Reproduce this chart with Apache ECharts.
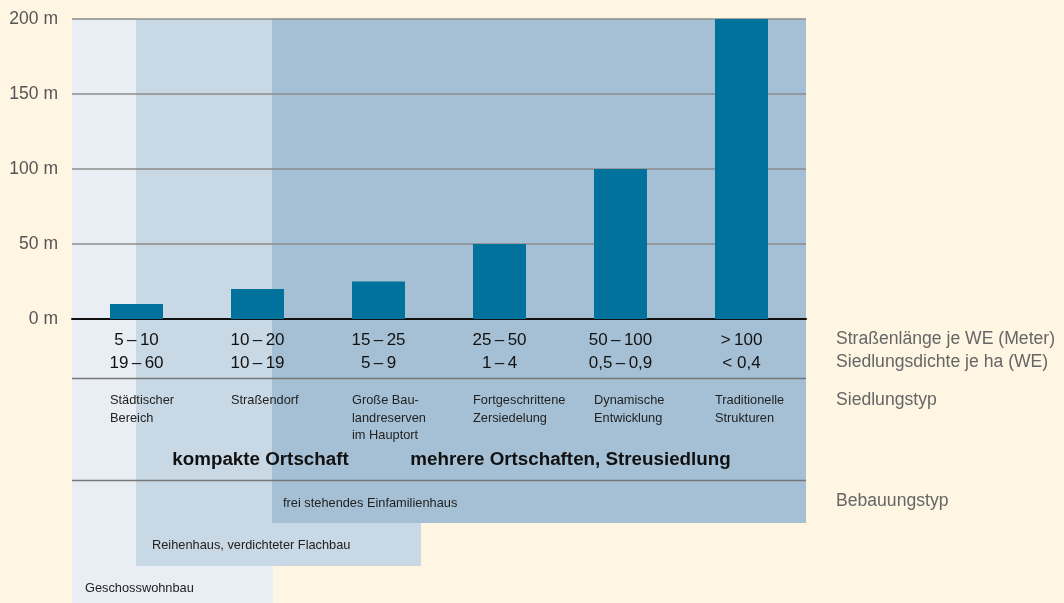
<!DOCTYPE html>
<html><head><meta charset="utf-8">
<script src="https://cdn.jsdelivr.net/npm/echarts@6/dist/echarts.min.js"></script>
<style>html,body{margin:0;padding:0;background:#FEF5E2;}#c{width:1064px;height:603px;}</style>
</head><body><div id="c"></div>
<script>
const strassenlaenge = ['5\u2009–\u200910', '10\u2009–\u200920', '15\u2009–\u200925', '25\u2009–\u200950', '50\u2009–\u2009100', '>\u2009100'];
const streetValues = [10, 20, 25, 50, 100, 200];
const siedlungsdichte = ['19\u2009–\u200960', '10\u2009–\u200919', '5\u2009–\u20099', '1\u2009–\u20094', '0,5\u2009–\u20090,9', '< 0,4'];
const siedlungstyp = ['Städtischer\nBereich', 'Straßendorf', 'Große Bau-\nlandreserven\nim Hauptort', 'Fortgeschrittene\nZersiedelung', 'Dynamische\nEntwicklung', 'Traditionelle\nStrukturen'];
const rowLabels = ['Straßenlänge je WE (Meter)', 'Siedlungsdichte je ha (WE)', 'Siedlungstyp', 'Bebauungstyp'];
const ortschaftLabels = ['kompakte Ortschaft', 'mehrere Ortschaften, Streusiedlung'];
const bebauungLabels = ['frei stehendes Einfamilienhaus', 'Reihenhaus, verdichteter Flachbau', 'Geschosswohnbau'];
const yTicks = [0, 50, 100, 150, 200];

const FONT = 'Liberation Sans, Arial, sans-serif';
const chart = echarts.init(document.getElementById('c'));
const barData = streetValues.map((v, i) => [i, v]);

chart.setOption({
  backgroundColor: '#FEF5E2',
  animation: false,
  grid: {left: 72, top: 19, width: 734, height: 300, containLabel: false},
  xAxis: {
    type: 'value', min: -0.5331, max: 5.5331,
    axisLine: {show: true, onZero: true, lineStyle: {color: '#111', width: 2}},
    axisTick: {show: false}, axisLabel: {show: false}, splitLine: {show: false}
  },
  yAxis: {
    type: 'value', min: yTicks[0], max: yTicks[yTicks.length - 1], interval: 50,
    axisLine: {show: false}, axisTick: {show: false},
    axisLabel: {formatter: '{value} m', color: '#555', fontSize: 17.5, fontFamily: FONT, margin: 14, padding: [3, 0, 0, 0]},
    splitLine: {lineStyle: {color: '#8c8c8c', width: 1.5}}
  },
  series: [{
    type: 'bar', data: barData, barWidth: 53, z: 5,
    itemStyle: {color: '#00729B'}
  }]
});

function px(i) { return chart.convertToPixel({xAxisIndex: 0}, i); }
const g = [];
g.push({type: 'rect', z: -10, shape: {x: 72, y: 19, width: 201, height: 584}, style: {fill: '#E9EEF5'}});
g.push({type: 'rect', z: -9, shape: {x: 136, y: 19, width: 285, height: 547}, style: {fill: '#C8D8E4'}});
g.push({type: 'rect', z: -8, shape: {x: 272, y: 19, width: 534, height: 504}, style: {fill: '#A5C0D5'}});
g.push({type: 'line', z: 10, shape: {x1: 72, y1: 378.5, x2: 806, y2: 378.5}, style: {stroke: '#777', lineWidth: 1.5}});
g.push({type: 'line', z: 10, shape: {x1: 72, y1: 480.5, x2: 806, y2: 480.5}, style: {stroke: '#777', lineWidth: 1.5}});

strassenlaenge.forEach((t, i) => {
  const x = px(i);
  g.push({type: 'text', z: 10, x: x, y: 340, style: {text: t, fill: '#111', font: '17px ' + FONT, align: 'center', verticalAlign: 'middle'}});
  g.push({type: 'text', z: 10, x: x, y: 363, style: {text: siedlungsdichte[i], fill: '#111', font: '17px ' + FONT, align: 'center', verticalAlign: 'middle'}});
  g.push({type: 'text', z: 10, x: x - 26.5, y: 392, style: {text: siedlungstyp[i], fill: '#222', font: '12.8px ' + FONT, lineHeight: 17.5, align: 'left', verticalAlign: 'top'}});
});
const rowY = [339, 362, 400, 501];
rowLabels.forEach((t, i) => {
  g.push({type: 'text', z: 10, x: 836, y: rowY[i], style: {text: t, fill: '#666', font: '17.6px ' + FONT, align: 'left', verticalAlign: 'middle'}});
});
g.push({type: 'text', z: 10, x: 260.5, y: 460, style: {text: ortschaftLabels[0], fill: '#111', font: 'bold 18.8px ' + FONT, align: 'center', verticalAlign: 'middle'}});
g.push({type: 'text', z: 10, x: 570.5, y: 460, style: {text: ortschaftLabels[1], fill: '#111', font: 'bold 18.8px ' + FONT, align: 'center', verticalAlign: 'middle'}});
const bebPos = [[283, 503], [152, 545], [85, 588]];
bebauungLabels.forEach((t, i) => {
  g.push({type: 'text', z: 10, x: bebPos[i][0], y: bebPos[i][1], style: {text: t, fill: '#222', font: '12.8px ' + FONT, align: 'left', verticalAlign: 'middle'}});
});
chart.setOption({graphic: {elements: g}});
</script></body></html>
